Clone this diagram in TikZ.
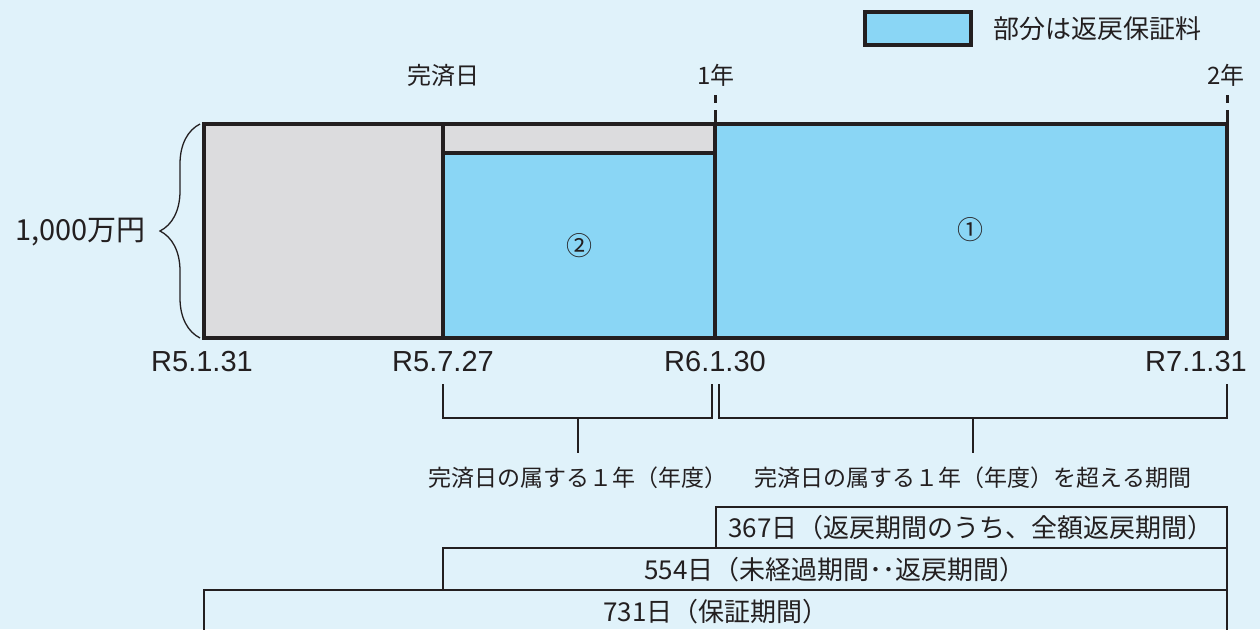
\documentclass[tikz,border=0pt]{standalone}
\usepackage{fontspec}
\setmainfont{Noto Sans CJK JP}
\newfontfamily\datefont{Liberation Sans}
\usetikzlibrary{decorations.pathreplacing,positioning}
\definecolor{bgblue}{HTML}{E0F2FA}
\definecolor{refund}{HTML}{8AD6F5}
\definecolor{paid}{HTML}{DCDCDE}
\definecolor{ink}{HTML}{231F20}
\tikzset{
  block/.style={draw=ink,line width=4pt},
  yeartick/.style={draw=ink,line width=3pt,dash pattern=on 8pt off 7pt on 30pt off 0pt},
  span/.style={draw=ink,line width=2pt},
  daybox/.style={draw=ink,line width=2pt},
  datelbl/.style={font=\datefont\fontsize{29}{29}\selectfont,text=ink,inner sep=0pt},
  jplbl/.style={font=\fontsize{23}{23}\selectfont,text=ink,inner sep=0pt},
  daylbl/.style={font=\fontsize{26}{26}\selectfont,text=ink,inner sep=0pt},
}
\begin{document}
\begin{tikzpicture}[x=1pt,y=-1pt]
 \fill[bgblue] (0,0) rectangle (1260,629);
 \clip (0,0) rectangle (1260,629);
 % legend
 \node[block,fill=refund,minimum width=106pt,minimum height=33pt,inner sep=0pt] (key) at (918,28.5) {};
 \node[daylbl,right=20pt of key] (keytext) {部分は返戻保証料};
 % premium blocks
 \fill[paid] (204,124) rectangle (443,338);
 \fill[paid] (443,124) rectangle (715,153);
 \fill[refund] (443,153) rectangle (715,338);
 \fill[refund] (715,124) rectangle (1227,338);
 \draw[block] (204,124) rectangle (1227,338);
 \draw[block] (443,124) -- (443,338);
 \draw[block] (715,124) -- (715,338);
 \draw[block] (443,153) -- (715,153);
 \draw[yeartick] (715,95) -- (715,124);
 \draw[yeartick] (1227,95) -- (1227,124);
 \node[jplbl,font=\fontsize{24}{24}\selectfont] (donelbl) at (443,75) {完済日};
 \node[jplbl,font=\fontsize{24}{24}\selectfont] (year1) at (716,75) {1年};
 \node[jplbl,font=\fontsize{24}{24}\selectfont] (year2) at (1226,75) {2年};
 \node[daylbl] (part2) at (579,246) {②};
 \node[daylbl] (part1) at (970,230) {①};
 % amount
 \draw[ink,line width=1.3pt,decorate,decoration={brace,amplitude=40pt}] (200,338) -- (200,124);
 \node[jplbl,font=\fontsize{29}{29}\selectfont,anchor=east] (amount) at (146,232) {1,000万円};
 % dates
 \node[datelbl] (d0) at (202,362) {R5.1.31};
 \node[datelbl] (d1) at (443,362) {R5.7.27};
 \node[datelbl] (d2) at (715,362) {R6.1.30};
 \node[datelbl] (d3) at (1196,362) {R7.1.31};
 % periods
 \draw[span] (443,384) |- (712,418) -- (712,384);
 \draw[span] (578,418) -- (578,453);
 \draw[span] (719,384) |- (1227,418) -- (1227,384);
 \draw[span] (973,418) -- (973,453);
 \node[jplbl] (inyear) at (578,478) {完済日の属する１年（年度）};
 \node[jplbl] (overyear) at (973,478) {完済日の属する１年（年度）を超える期間};
 % day counts
 \draw[daybox] (716,507) rectangle (1227,548);
 \draw[daybox] (443,548) rectangle (1227,590);
 \draw[daybox] (204,590) rectangle (1227,640);
 \node[daylbl] (full) at (971,528) {367日（返戻期間のうち、全額返戻期間）};
 \node[daylbl] (unused) at (835,570) {554日（未経過期間･･返戻期間）};
 \node[daylbl] (cover) at (716,612) {731日（保証期間）};
\end{tikzpicture}
\end{document}
